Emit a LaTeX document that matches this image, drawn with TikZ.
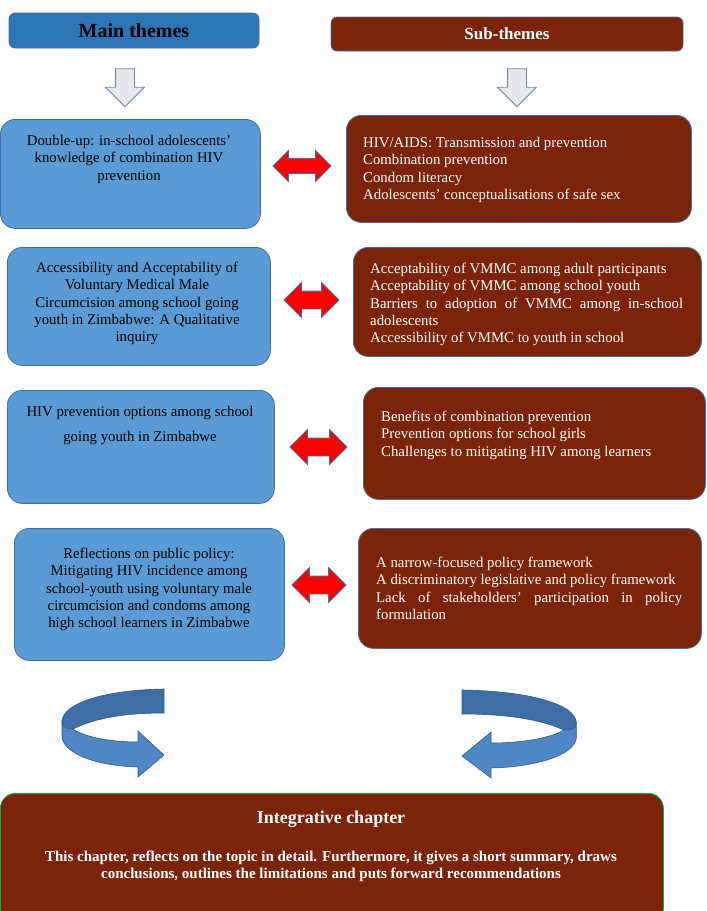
\documentclass[tikz,border=0pt]{standalone}
\usepackage{fontspec}
\setmainfont{Liberation Serif}
\usetikzlibrary{shapes.arrows}
\definecolor{hdrblue}{RGB}{46,117,182}
\definecolor{boxblue}{RGB}{91,155,213}
\definecolor{edgeblue}{RGB}{65,113,156}
\definecolor{darkred}{RGB}{123,36,10}
\definecolor{greyfill}{RGB}{231,232,236}
\definecolor{greyedge}{RGB}{110,135,165}
\definecolor{curvefront}{RGB}{79,134,196}
\definecolor{curveback}{RGB}{62,110,166}
\definecolor{curveedge}{RGB}{50,90,140}
\definecolor{greenedge}{RGB}{0,176,80}
\begin{document}
\begin{tikzpicture}[x=1pt,y=-1pt,
  hdrL/.style={draw=edgeblue, line width=0.7pt, fill=hdrblue, rounded corners=6pt, inner sep=0pt, font=\fontsize{20}{24}\selectfont\bfseries, text=black},
  hdrR/.style={draw=edgeblue, line width=0.7pt, fill=darkred, rounded corners=6pt, inner sep=0pt, font=\fontsize{17}{20}\selectfont\bfseries, text=white},
  bluebox/.style={draw=edgeblue, line width=0.8pt, fill=boxblue, rounded corners=15pt, inner sep=0pt, anchor=north west},
  redbox/.style={draw=edgeblue, line width=0.8pt, fill=darkred, rounded corners=15pt, inner sep=0pt, anchor=north west},
  lefttext/.style={inner sep=0pt, anchor=north, align=center, font=\fontsize{14.8}{17.3}\selectfont, text=black},
  righttext/.style={inner sep=0pt, anchor=north west, align=justify, font=\fontsize{14.8}{17.3}\selectfont, text=white},
  downarrow/.style={single arrow, draw=greyedge, fill=greyfill, line width=0.8pt, shape border rotate=270, minimum height=38pt, inner sep=9pt, single arrow head extend=10pt},
  dblarrow/.style={double arrow, draw=edgeblue, fill=red, line width=0.8pt, inner sep=7pt, double arrow head extend=8pt},
  dblarrowb/.style={double arrow, draw=edgeblue, fill=red, line width=0.8pt, inner sep=8.5pt, double arrow head extend=8.5pt},
  ringback/.style={fill=curveback, draw=curveedge, line width=0.6pt},
  ringfront/.style={fill=curvefront, draw=curveedge, line width=0.6pt}
]
\useasboundingbox (0,0) rectangle (707,911);

% headers
\node[hdrL, minimum width=250pt, minimum height=35pt] (hL) at (134,30.5) {Main themes};
\node[hdrR, minimum width=352pt, minimum height=34pt] (hR) at (507,34) {Sub-themes};

% down arrows
\node[downarrow] (dL) at (125,83) {};
\node[downarrow] (dR) at (517,83) {};

% row 1
\node[bluebox, minimum width=260pt, minimum height=109pt] (b1) at (0,119) {};
\node[lefttext] (b1t) at (129,135) {Double-up: in-school adolescents’\\knowledge of combination HIV\\prevention};
\node[redbox, minimum width=345pt, minimum height=107pt] (s1) at (346,115) {};
\node[righttext, text width=315pt] (s1t) at (363,137) {HIV/AIDS: Transmission and prevention\\Combination prevention\\Condom literacy\\Adolescents’ conceptualisations of safe sex};
\node[dblarrow, minimum height=58pt] (a1) at (302,166) {};

% row 2
\node[bluebox, minimum width=263pt, minimum height=118pt] (b2) at (7,247) {};
\node[lefttext] (b2t) at (137,262) {Accessibility and Acceptability of\\Voluntary Medical Male\\Circumcision among school going\\youth in Zimbabwe: A Qualitative\\inquiry};
\node[redbox, minimum width=348pt, minimum height=109pt] (s2) at (353,247) {};
\node[righttext, text width=313pt] (s2t) at (370,263) {Acceptability of VMMC among adult participants\\Acceptability of VMMC among school youth\\Barriers to adoption of VMMC among in-school\linebreak adolescents\\Accessibility of VMMC to youth in school};
\node[dblarrowb, minimum height=55pt] (a2) at (311.5,300) {};

% row 3
\node[bluebox, minimum width=267pt, minimum height=113pt] (b3) at (7,390) {};
\node[lefttext, font=\fontsize{14.8}{25}\selectfont] (b3t) at (140,406) {HIV prevention options among school\\going youth in Zimbabwe};
\node[redbox, minimum width=342pt, minimum height=112pt] (s3) at (363,387) {};
\node[righttext, text width=305pt] (s3t) at (381,411) {Benefits of combination prevention\\Prevention options for school girls\\Challenges to mitigating HIV among learners};
\node[dblarrowb, minimum height=57pt] (a3) at (318.5,447) {};

% row 4
\node[bluebox, minimum width=270pt, minimum height=132pt] (b4) at (14,528) {};
\node[lefttext] (b4t) at (149,548) {Reflections on public policy:\\Mitigating HIV incidence among\\school-youth using voluntary male\\circumcision and condoms among\\high school learners in Zimbabwe};
\node[redbox, minimum width=343pt, minimum height=120pt] (s4) at (358,528) {};
\node[righttext, text width=306pt] (s4t) at (376,557) {A narrow-focused policy framework\\A discriminatory legislative and policy framework\\Lack of stakeholders’ participation in policy\linebreak formulation};
\node[dblarrowb, minimum height=54pt] (a4) at (319,585) {};

% curved arrows (left)
\fill[ringback] (164,689) .. controls (105,690) and (62,703) .. (62,722) .. controls (62,727) and (66,729) .. (73,729) .. controls (95,718) and (125,713) .. (164,713) -- cycle;
\fill[ringfront] (73,729) .. controls (85,737) and (110,742) .. (138,742) -- (138,731) -- (164,755) -- (138,777) -- (138,767) .. controls (100,766) and (64,755) .. (62,737) -- (62,722) .. controls (62,727) and (66,729) .. (73,729) -- cycle;
% curved arrows (right, mirrored)
\begin{scope}[shift={(645.7,1)}, xscale=-1.12]
\fill[ringback] (164,689) .. controls (105,690) and (62,703) .. (62,722) .. controls (62,727) and (66,729) .. (73,729) .. controls (95,718) and (125,713) .. (164,713) -- cycle;
\fill[ringfront] (73,729) .. controls (85,737) and (110,742) .. (138,742) -- (138,731) -- (164,755) -- (138,777) -- (138,767) .. controls (100,766) and (64,755) .. (62,737) -- (62,722) .. controls (62,727) and (66,729) .. (73,729) -- cycle;
\end{scope}

% integrative chapter
\node[draw=greenedge, line width=0.8pt, fill=darkred, rounded corners=15pt, inner sep=0pt, anchor=north west, minimum width=663pt, minimum height=130pt] (ig) at (0,793) {};
\node[inner sep=0pt, anchor=base, font=\fontsize{18}{21}\selectfont\bfseries, text=white] (igt) at (331,823) {Integrative chapter};
\node[inner sep=0pt, anchor=north, align=center, font=\fontsize{15}{17}\selectfont\bfseries, text=white] (igb) at (331,850.5) {This chapter, reflects on the topic in detail. Furthermore, it gives a short summary, draws\\conclusions, outlines the limitations and puts forward recommendations};
\end{tikzpicture}
\end{document}
